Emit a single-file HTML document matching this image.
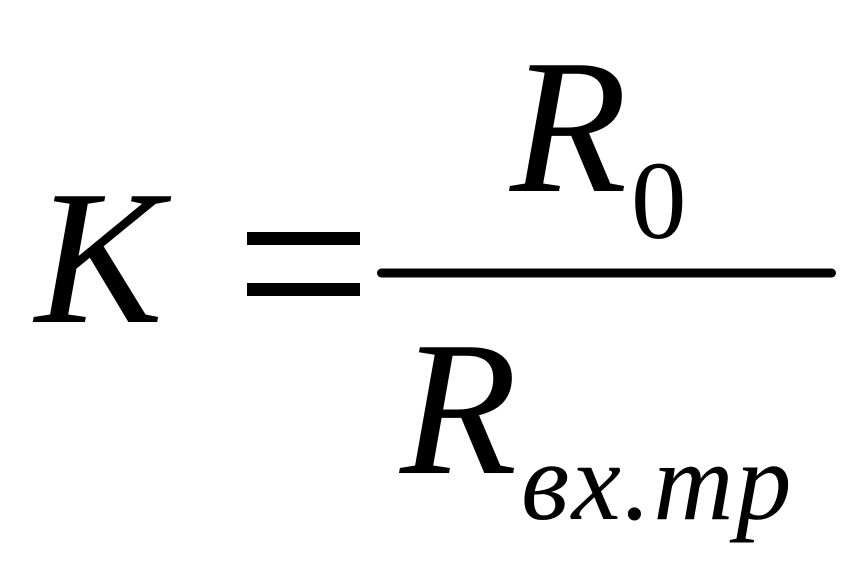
<!DOCTYPE html>
<html><head><meta charset="utf-8"><style>
html,body{margin:0;padding:0;background:#fff}
svg{display:block}
text{font-family:"Liberation Serif",serif;fill:#000}
</style></head><body>
<svg width="866" height="577" viewBox="0 0 866 577" xmlns="http://www.w3.org/2000/svg">
<rect width="866" height="577" fill="#fff"/>
<text x="35" y="322" font-size="192" font-style="italic">K</text>
<rect x="247" y="232" width="113" height="13"/>
<rect x="247" y="283" width="113" height="13"/>
<rect x="377" y="268.500" width="459" height="9" rx="4.500"/>
<text x="510" y="191" font-size="192" font-style="italic">R</text>
<text x="631" y="238" font-size="111">0</text>
<text x="400" y="473" font-size="192" font-style="italic">R</text>
<text x="521" y="519" font-size="111" font-style="italic" letter-spacing="2.4">вх.тр</text>
</svg>
</body></html>
